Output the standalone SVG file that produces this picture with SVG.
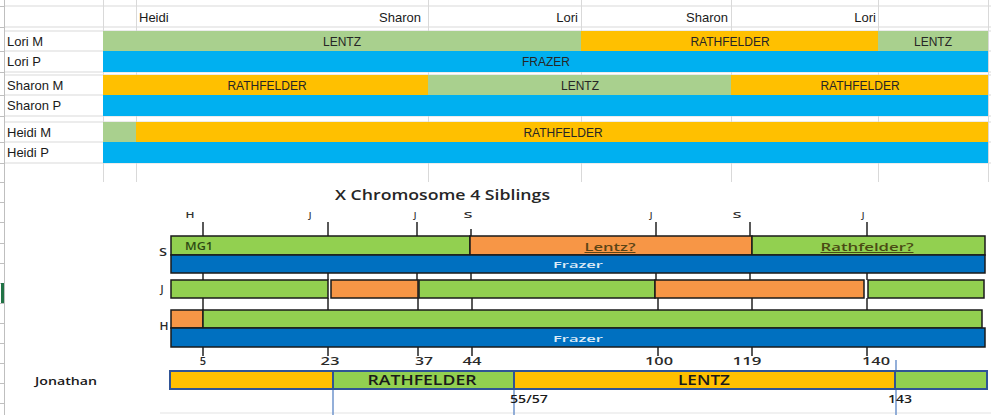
<svg xmlns="http://www.w3.org/2000/svg" width="991" height="415" viewBox="0 0 991 415">
<defs>
<style>
.grid{stroke:#D9D9D9;stroke-width:1;fill:none}
.cell{font-family:"Liberation Sans",Arial,sans-serif;font-size:13px;fill:#1a1a1a}
.bl{font-family:"Liberation Sans",Arial,sans-serif;font-size:12px;fill:#262626;text-anchor:middle}
.g1{fill:#A9D08E}.o1{fill:#FFC000}.b1{fill:#00B0F0}
.bar{stroke:#1a1a1a;stroke-width:1.5}
.g2{fill:#92D050}.o2{fill:#F79646}.b2{fill:#0070C0}
.ch{font-family:"Open Sans","DejaVu Sans",sans-serif;font-weight:600}
.tk{stroke:#595959;stroke-width:2}
.jb{stroke:#2F5496;stroke-width:2}
.bline{stroke:#6F94CC;stroke-width:1.5}
</style>
</defs>
<rect width="991" height="415" fill="#ffffff"/>
<g id="grid">
<line class="grid" x1="4" y1="6" x2="991" y2="6"/>
<line class="grid" x1="4" y1="27" x2="991" y2="27"/>
<line class="grid" x1="4" y1="31" x2="991" y2="31"/>
<line class="grid" x1="4" y1="51" x2="991" y2="51"/>
<line class="grid" x1="4" y1="72" x2="991" y2="72"/>
<line class="grid" x1="4" y1="75" x2="991" y2="75"/>
<line class="grid" x1="4" y1="95" x2="991" y2="95"/>
<line class="grid" x1="4" y1="116" x2="991" y2="116"/>
<line class="grid" x1="4" y1="122" x2="991" y2="122"/>
<line class="grid" x1="4" y1="142" x2="991" y2="142"/>
<line class="grid" x1="4" y1="163" x2="991" y2="163"/>
<line class="grid" x1="103.5" y1="0" x2="103.5" y2="182"/>
<line class="grid" x1="136.5" y1="0" x2="136.5" y2="182"/>
<line class="grid" x1="428.5" y1="0" x2="428.5" y2="182"/>
<line class="grid" x1="581.5" y1="0" x2="581.5" y2="182"/>
<line class="grid" x1="731.5" y1="0" x2="731.5" y2="182"/>
<line class="grid" x1="878.5" y1="0" x2="878.5" y2="182"/>
<line class="grid" x1="988.5" y1="0" x2="988.5" y2="182"/>
<line x1="4.5" y1="0" x2="4.5" y2="415" stroke="#BFBFBF"/>
<path d="M0 6.5H4M0 27.5H4M0 51.5H4M0 72.5H4M0 95.5H4M0 116.5H4M0 142.5H4M0 163.5H4M0 182.5H4M0 202.5H4M0 222.5H4M0 243.5H4M0 263.5H4M0 283.5H4M0 303.5H4M0 323.5H4M0 343.5H4M0 363.5H4M0 383.5H4M0 403.5H4" stroke="#BFBFBF"/>
<rect x="1" y="283" width="3" height="20" fill="#217346"/>
</g>
<g id="header">
<text class="cell" x="139" y="22">Heidi</text>
<text class="cell" x="421" y="22" text-anchor="end">Sharon</text>
<text class="cell" x="578" y="22" text-anchor="end">Lori</text>
<text class="cell" x="728" y="22" text-anchor="end">Sharon</text>
<text class="cell" x="876" y="22" text-anchor="end">Lori</text>
</g>
<g id="row-lori-m">
<rect class="g1" x="103" y="31" width="478" height="20"/>
<rect class="o1" x="581" y="31" width="297" height="20"/>
<rect class="g1" x="878" y="31" width="110" height="20"/>
<text class="cell" x="7" y="46">Lori M</text>
<text class="bl" x="342" y="46">LENTZ</text>
<text class="bl" x="730" y="46">RATHFELDER</text>
<text class="bl" x="933" y="46">LENTZ</text>
</g>
<g id="row-lori-p">
<rect class="b1" x="103" y="51" width="885" height="21"/>
<text class="cell" x="7" y="66">Lori P</text>
<text class="bl" x="546" y="66">FRAZER</text>
</g>
<g id="row-sharon-m">
<rect class="o1" x="103" y="75" width="325" height="20"/>
<rect class="g1" x="428" y="75" width="303" height="20"/>
<rect class="o1" x="731" y="75" width="257" height="20"/>
<text class="cell" x="7" y="90">Sharon M</text>
<text class="bl" x="267" y="90">RATHFELDER</text>
<text class="bl" x="580" y="90">LENTZ</text>
<text class="bl" x="860" y="90">RATHFELDER</text>
</g>
<g id="row-sharon-p">
<rect class="b1" x="103" y="95" width="885" height="21"/>
<text class="cell" x="7" y="110">Sharon P</text>
</g>
<g id="row-heidi-m">
<rect class="g1" x="103" y="122" width="33" height="20"/>
<rect class="o1" x="136" y="122" width="852" height="20"/>
<text class="cell" x="7" y="137">Heidi M</text>
<text class="bl" x="563" y="137">RATHFELDER</text>
</g>
<g id="row-heidi-p">
<rect class="b1" x="103" y="142" width="885" height="21"/>
<text class="cell" x="7" y="157">Heidi P</text>
</g>
<line x1="160" y1="413" x2="991" y2="413" stroke="#E3E3E3"/>
<g id="title">
<text class="ch" x="335" y="200" font-size="15" font-weight="500" textLength="215" lengthAdjust="spacingAndGlyphs" fill="#262626">X Chromosome 4 Siblings</text>
</g>
<g id="tick-labels" class="ch" font-size="9" text-anchor="middle" font-weight="700" fill="#333333">
<text x="190" y="218" textLength="9" lengthAdjust="spacingAndGlyphs">H</text>
<text x="310" y="218">J</text>
<text x="415" y="218">J</text>
<text x="468" y="218" textLength="9" lengthAdjust="spacingAndGlyphs">S</text>
<text x="651" y="218">J</text>
<text x="737" y="218" textLength="9" lengthAdjust="spacingAndGlyphs">S</text>
<text x="863" y="218">J</text>
</g>
<g id="connectors">
<path class="tk" d="M203 222V236M328 222V236M417 222V236M471 229V236M656 222V236M750 222V236M867 222V236"/>
<path class="tk" d="M203 273V280M328 273V280M417 273V280M471 273V280M656 273V280M750 273V280M867 273V280"/>
<path class="tk" d="M203 298V310M328 298V310M418 298V310M472 298V310M658 298V310M752 298V310M867 298V310"/>
<path class="tk" d="M203 347V356M328 347V356M418 347V356M472 347V356M658 347V356M752 347V356M867 347V356"/>
<line class="bline" x1="333" y1="389" x2="333" y2="415"/>
<line class="bline" x1="514" y1="389" x2="514" y2="415"/>
<line class="bline" x1="896" y1="360" x2="896" y2="415"/>
</g>
<g id="sibling-s">
<rect class="g2 bar" x="171" y="236" width="299" height="19"/>
<rect class="o2 bar" x="470" y="236" width="282" height="19"/>
<rect class="g2 bar" x="752" y="236" width="233" height="19"/>
<rect class="b2 bar" x="171" y="255" width="814" height="18"/>
<text class="ch" x="163" y="256" font-size="10" text-anchor="middle" textLength="8" lengthAdjust="spacingAndGlyphs" fill="#2a2a2a">S</text>
<text class="ch" x="185" y="250" font-size="10" textLength="28" lengthAdjust="spacingAndGlyphs" fill="#2E4A14">MG1</text>
<text class="ch" x="610" y="251" font-size="10" text-anchor="middle" textLength="51" lengthAdjust="spacingAndGlyphs" fill="#5A4416" text-decoration="underline">Lentz?</text>
<text class="ch" x="867" y="251" font-size="10" text-anchor="middle" textLength="93" lengthAdjust="spacingAndGlyphs" fill="#4A4A14" text-decoration="underline">Rathfelder?</text>
<text class="ch" x="578" y="268" font-size="9" text-anchor="middle" textLength="50" lengthAdjust="spacingAndGlyphs" fill="#DDEBF7">Frazer</text>
</g>
<g id="sibling-j">
<rect class="g2 bar" x="171" y="280" width="157" height="18"/>
<rect class="o2 bar" x="331" y="280" width="87" height="18"/>
<rect class="g2 bar" x="419" y="280" width="236" height="18"/>
<rect class="o2 bar" x="655" y="280" width="209" height="18"/>
<rect class="g2 bar" x="868" y="280" width="116" height="18"/>
<text class="ch" x="162" y="293" font-size="10" text-anchor="middle" fill="#2a2a2a">J</text>
</g>
<g id="sibling-h">
<rect class="o2 bar" x="171" y="310" width="32" height="18"/>
<rect class="g2 bar" x="203" y="310" width="779" height="18"/>
<rect class="b2 bar" x="171" y="328" width="814" height="19"/>
<text class="ch" x="164" y="330" font-size="10" text-anchor="middle" textLength="9" lengthAdjust="spacingAndGlyphs" fill="#2a2a2a">H</text>
<text class="ch" x="578" y="342" font-size="9" text-anchor="middle" textLength="50" lengthAdjust="spacingAndGlyphs" fill="#DDEBF7">Frazer</text>
</g>
<g id="positions" class="ch" font-size="11" text-anchor="middle" fill="#2a2a2a">
<text x="203" y="365">5</text>
<text x="330" y="365" textLength="19" lengthAdjust="spacingAndGlyphs">23</text>
<text x="424" y="365" textLength="18" lengthAdjust="spacingAndGlyphs">37</text>
<text x="472" y="365" textLength="19" lengthAdjust="spacingAndGlyphs">44</text>
<text x="659" y="365" textLength="28" lengthAdjust="spacingAndGlyphs">100</text>
<text x="747" y="365" textLength="29" lengthAdjust="spacingAndGlyphs">119</text>
<text x="876" y="365" textLength="28" lengthAdjust="spacingAndGlyphs">140</text>
</g>
<g id="jonathan">
<rect class="o1 jb" x="170" y="371" width="163" height="18"/>
<rect class="g2 jb" x="333" y="371" width="181" height="18"/>
<rect class="o1 jb" x="514" y="371" width="381" height="18"/>
<rect class="g2 jb" x="895" y="371" width="92" height="18"/>
<text class="ch" x="35" y="385" font-size="10" font-weight="500" textLength="62" lengthAdjust="spacingAndGlyphs" fill="#1a1a1a">Jonathan</text>
<text class="ch" x="422" y="385" font-size="14" font-weight="500" text-anchor="middle" textLength="109" lengthAdjust="spacingAndGlyphs" fill="#1a1a1a">RATHFELDER</text>
<text class="ch" x="704" y="385" font-size="14" font-weight="500" text-anchor="middle" textLength="52" lengthAdjust="spacingAndGlyphs" fill="#1a1a1a">LENTZ</text>
<text class="ch" x="510" y="403" font-size="10" font-weight="500" textLength="38" lengthAdjust="spacingAndGlyphs" fill="#1a1a1a">55/57</text>
<text class="ch" x="888" y="403" font-size="10" font-weight="500" textLength="24" lengthAdjust="spacingAndGlyphs" fill="#1a1a1a">143</text>
</g>
</svg>
